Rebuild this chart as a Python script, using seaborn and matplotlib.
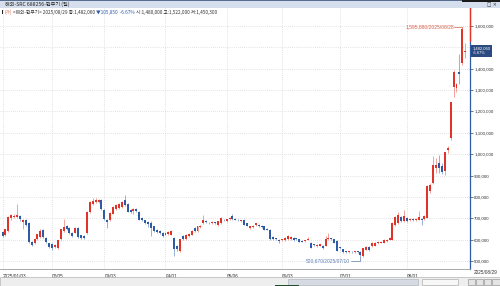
import numpy as np
import pandas as pd
import matplotlib
matplotlib.use("Agg")
import matplotlib.pyplot as plt
import matplotlib.transforms as mtransforms
from matplotlib.patches import Rectangle
from matplotlib.ticker import FuncFormatter
import seaborn as sns

# ---------------- data (prices in thousands of won-units) ----------------
open_k = [636, 621, 642, 700, 706, 708, 710, 682, 692, 680, 588, 585, 604, 612, 645, 610, 582,
          578, 566, 560, 603, 640, 662, 655, 633, 633, 655, 620, 618, 633, 730, 767, 777, 778, 785,
          740, 690, 690, 722, 745, 748, 755, 785, 769, 740, 736, 742, 730, 700, 690, 682, 677, 662,
          647, 640, 632, 624, 628, 624, 608, 570, 548, 616, 601, 616, 624, 655, 640, 660, 677, 688,
          680, 676, 680, 670, 677, 693, 688, 698, 710, 697, 692, 686, 693, 677, 654, 660, 670, 670,
          665, 662, 650, 647, 613, 604, 600, 597, 598, 603, 604, 608, 605, 601, 594, 592, 600, 585,
          578, 570, 572, 572, 572, 601, 605, 602, 593, 562, 555, 544, 541, 543, 541, 543, 543, 524,
          553, 566, 569, 572, 582, 586, 585, 592, 600, 600, 670, 678, 706, 686, 701, 690, 695, 692,
          694, 697, 697, 702, 826, 865, 935, 958, 945, 920, 1018, 1075, 1314, 1310, 1385, 1425, 1480]
high_k = [641, 652, 710, 722, 720, 767, 714, 698, 696, 684, 592, 607, 628, 648, 650, 613, 586,
          582, 578, 598, 652, 695, 668, 660, 636, 658, 658, 624, 622, 735, 780, 797, 795, 790, 790,
          745, 695, 728, 758, 765, 770, 781, 810, 772, 745, 748, 746, 733, 704, 694, 686, 685, 665,
          650, 643, 636, 636, 640, 644, 612, 575, 605, 620, 628, 632, 644, 658, 665, 668, 715, 692,
          684, 686, 684, 688, 704, 697, 698, 704, 718, 700, 695, 692, 696, 680, 665, 668, 680, 674,
          668, 664, 654, 650, 616, 608, 603, 604, 612, 620, 616, 612, 608, 604, 597, 599, 612, 588,
          580, 578, 581, 575, 615, 630, 610, 604, 596, 566, 558, 548, 547, 546, 546, 546, 548, 563,
          569, 570, 588, 587, 592, 594, 603, 603, 611, 684, 712, 730, 710, 737, 705, 700, 699, 700,
          732, 702, 715, 855, 865, 990, 982, 997, 960, 1012, 1040, 1243.2, 1393, 1335, 1467, 1595.88, 1522]
low_k = [614, 618, 636, 694, 700, 700, 688, 652, 664, 586, 568, 580, 600, 608, 608, 586, 562,
         550, 560, 556, 600, 636, 644, 628, 614, 630, 608, 602, 604, 628, 725, 760, 770, 772, 740,
         690, 655, 686, 718, 740, 742, 750, 758, 728, 725, 720, 730, 690, 686, 672, 660, 615, 636,
         632, 628, 614, 620, 622, 620, 524, 548, 540, 598, 598, 612, 620, 636, 636, 655, 672, 680,
         672, 672, 674, 666, 674, 686, 684, 694, 692, 690, 686, 682, 668, 662, 650, 656, 666, 660,
         654, 645, 644, 600, 598, 598, 582, 592, 595, 600, 600, 594, 598, 588, 588, 588, 596, 560,
         570, 566, 568, 557, 570, 598, 600, 582, 545, 556, 538, 538, 538, 537, 538, 537, 520.67, 521,
         550, 549, 566, 570, 579, 583, 582, 589, 597, 598, 665, 674, 682, 682, 682, 686, 688, 689,
         690, 670, 694, 700, 820, 860, 911, 911, 905, 903, 1005, 1065, 1267, 1290, 1330, 1415, 1450.3]
close_k = [618, 648, 706, 714, 712, 714, 695, 690, 670, 590, 575, 603, 625, 640, 612, 590, 566,
           562, 575, 596, 648, 660, 648, 633, 618, 655, 612, 606, 610, 730, 775, 782, 785, 785, 745,
           695, 682, 725, 755, 760, 765, 777, 762, 731, 730, 742, 735, 693, 690, 677, 672, 655, 640,
           636, 632, 618, 632, 634, 640, 555, 558, 601, 601, 624, 628, 640, 640, 662, 665, 693, 684,
           676, 682, 678, 685, 700, 690, 695, 700, 696, 694, 690, 690, 670, 665, 662, 666, 677, 662,
           657, 647, 647, 604, 601, 602, 594, 601, 608, 616, 613, 596, 602, 590, 591, 596, 602, 562,
           575, 575, 578, 560, 601, 606, 604, 585, 548, 560, 540, 542, 544, 540, 543, 541, 528, 560,
           566, 552, 585, 584, 589, 590, 600, 600, 608, 678, 706, 717, 686, 709, 686, 697, 692, 697,
           706, 694, 712, 850, 857, 950, 950, 935, 915, 1008, 1030, 1243.2, 1385, 1330, 1375, 1587.91, 1482.06]

holidays = ["2025-01-28", "2025-01-29", "2025-01-30", "2025-01-31", "2025-02-03", "2025-02-04",
            "2025-04-04", "2025-05-01", "2025-05-02", "2025-05-05", "2025-06-02"]
tick_dates = ["2025-01-03", "2025-02-05", "2025-03-03", "2025-04-01", "2025-05-06",
              "2025-06-03", "2025-07-01", "2025-08-01"]
tick_labels = ["2025/01/03", "02/05", "03/03", "04/01", "05/06", "06/03", "07/01", "08/01"]
last_label = "2025/08/29"
y_ticks = [500000, 600000, 700000, 800000, 900000, 1000000, 1100000, 1200000,
           1300000, 1400000, 1500000, 1600000]
hidden_tick = 1500000  # covered by the current-price box in the reference

title_text = "해외-SRC 688256-한무기 (일)"
info_a = "(가)"
info_b = "<해외-한무기> 2025/08/29 종:1,482,060 "
info_c = "▼105,850  -6.67%"
info_d = " 시:1,480,000 고:1,522,000 저:1,450,300"
max_label = "1,595,880/2025/08/28"
min_label = "520,670/2025/07/10"
box_label = "1,482,060\n-6.67%"

# ---------------- frame ----------------
all_days = pd.bdate_range("2025-01-03", "2025-08-29")
dates = [d for d in all_days if d.strftime("%Y-%m-%d") not in holidays]
df = pd.DataFrame({
    "date": dates,
    "open": np.array(open_k) * 1000,
    "high": np.array(high_k) * 1000,
    "low": np.array(low_k) * 1000,
    "close": np.array(close_k) * 1000,
})
df["pos"] = np.arange(len(df))
date_str = [d.strftime("%Y-%m-%d") for d in df["date"]]

sns.set_theme(style="white")
plt.rcParams["font.family"] = ["Liberation Sans", "Noto Sans CJK KR", "DejaVu Sans"]

RED = "#e0342b"
BLUE = "#2f5aa6"
RED_W = "#ef8a80"
BLUE_W = "#7f9bcc"

W, H = 500, 286
fig = plt.figure(figsize=(5, 2.86), dpi=100)
top_px, bot_px, right_px = 8, 269, 470
ax = fig.add_axes([0, 1 - bot_px / H, right_px / W, (bot_px - top_px) / H])
ax.set_facecolor("white")

up = df["close"] >= df["open"]
body_col = np.where(up, RED, BLUE)
wick_col = np.where(up, RED_W, BLUE_W)

ax.vlines(df["pos"], df["low"], df["high"], colors=wick_col, linewidth=0.55, zorder=2)
body_h = (df["close"] - df["open"]).abs().clip(lower=3500)
body_b = np.minimum(df["open"], df["close"])
ax.bar(df["pos"], body_h, bottom=body_b, width=0.68, color=body_col, linewidth=0, zorder=3)

ax.set_xlim(-0.87, len(df) + 0.64)
ax.set_ylim(462600, 1684000)

# grids
tick_pos = [date_str.index(d) for d in tick_dates]
for yv in y_ticks:
    ax.axhline(yv, color="#c9c9c9", lw=0.5, ls=(0, (1, 2)), zorder=0)
for xp in tick_pos:
    ax.axvline(xp, color="#c9c9c9", lw=0.5, ls=(0, (1, 2)), zorder=0)

# axes / ticks
ax.yaxis.tick_right()
ax.set_yticks(y_ticks)
ax.yaxis.set_major_formatter(FuncFormatter(lambda v, p: "" if abs(v - hidden_tick) < 1 else f"{v:,.0f}"))
ax.tick_params(axis="y", labelsize=3.2, length=2, width=0.5, pad=1, colors="#444444",
               labelcolor="#333333")
ax.set_xticks(tick_pos)
ax.set_xticklabels(tick_labels)
for lab in ax.get_xticklabels():
    lab.set_horizontalalignment("left")
ax.tick_params(axis="x", labelsize=3.4, length=3, width=0.5, pad=0.6, colors="#555555",
               labelcolor="#333333")
for s in ["left", "top"]:
    ax.spines[s].set_visible(False)
ax.spines["bottom"].set_color("#9a9a9a")
ax.spines["bottom"].set_linewidth(0.6)
ax.spines["right"].set_color(BLUE)
ax.spines["right"].set_linewidth(0.9)
trans_yd = mtransforms.blended_transform_factory(ax.transAxes, ax.transData)
ax.plot([1, 1], [1530000, 1684000], transform=trans_yd, color=RED, lw=0.9, clip_on=False, zorder=5)

# last date label at right
fig.text(474 / W, 1 - 272.5 / H, last_label, fontsize=3.4, color="#333333", va="center", ha="left")

# current price box
ax.text(1.006, df["close"].iloc[-1], box_label, transform=trans_yd, fontsize=3.0, color="white",
        ha="left", va="center", linespacing=1.15,
        bbox=dict(boxstyle="square,pad=0.4", facecolor="#2b4a80", edgecolor="none"), zorder=6)

# max annotation
imax = int(df["high"].idxmax())
hmax = df["high"].iloc[imax]
ax.text(imax - 2.75, hmax, max_label, fontsize=3.6, color="#d8614a", ha="right", va="center", zorder=6)
ax.plot([imax - 2.7, imax, imax], [hmax, hmax, hmax - 9000], color="#d8614a", lw=0.5, zorder=6)

# min annotation
imin = int(df["low"].idxmin())
lmin = df["low"].iloc[imin]
ax.text(imin - 3.5, 502000, min_label, fontsize=3.5, color="#5f7fb5", ha="right", va="center", zorder=6)
ax.plot([imin - 3.4, imin, imin], [502000, 502000, lmin], color="#5f7fb5", lw=0.5, zorder=6)

# ---------------- chrome: title bar, info line, scrollbar ----------------
fig.patches.append(Rectangle((0, 1 - top_px / H), 1, top_px / H, transform=fig.transFigure,
                             facecolor="#d4deec", edgecolor="none", zorder=0))
fig.patches.append(Rectangle((0, 1 - 1 / H), 1, 1 / H, transform=fig.transFigure,
                             facecolor="#5a6f90", edgecolor="none", zorder=1))
fig.patches.append(Rectangle((462 / W, 1 - 1.5 / H), 38 / W, 1.5 / H, transform=fig.transFigure,
                             facecolor="#1a1a1a", edgecolor="none", zorder=1))
fig.text(5 / W, 1 - 4.5 / H, title_text, fontsize=3.7, color="#222222", va="center", ha="left",
         family=["Noto Sans CJK KR", "DejaVu Sans"])
fig.text(487 / W, 1 - 4.5 / H, "□ ×", fontsize=3.3, color="#333333", va="center", ha="left",
         family=["DejaVu Sans"])

fig.patches.append(Rectangle((1.5 / W, 1 - 13.5 / H), 1.5 / W, 3.5 / H, transform=fig.transFigure,
                             facecolor="#222222", edgecolor="none", zorder=2))
ta = fig.text(4.5 / W, 1 - 12 / H, info_a, fontsize=3.4, color="#d8614a", va="center", ha="left",
              family=["Noto Sans CJK KR", "DejaVu Sans"])
tb = ax.annotate(info_b, xy=(1, 0), xycoords=ta, xytext=(1.0, 0), textcoords="offset points",
                 fontsize=3.4, color="#333333", va="bottom", ha="left",
                 family=["Noto Sans CJK KR", "DejaVu Sans"], annotation_clip=False)
tc = ax.annotate(info_c, xy=(1, 0), xycoords=tb, fontsize=3.4, color="#2f5aa6", va="bottom", ha="left",
                 family=["Noto Sans CJK KR", "DejaVu Sans"], annotation_clip=False)
td = ax.annotate(info_d, xy=(1, 0), xycoords=tc, fontsize=3.4, color="#333333", va="bottom", ha="left",
                 family=["Noto Sans CJK KR", "DejaVu Sans"], annotation_clip=False)

# bottom scrollbar row
fig.patches.append(Rectangle((0, 0), 1, 9 / H, transform=fig.transFigure,
                             facecolor="#eeeeee", edgecolor="#b5b5b5", linewidth=0.5, zorder=0))
fig.patches.append(Rectangle((288 / W, 1.5 / H), 130 / W, 6 / H, transform=fig.transFigure,
                             facecolor="#d6dae2", edgecolor="#a9aeb8", linewidth=0.4, zorder=1))
fig.patches.append(Rectangle((422 / W, 1.5 / H), 36 / W, 6 / H, transform=fig.transFigure,
                             facecolor="#f7f7f7", edgecolor="#a0a0a0", linewidth=0.4, zorder=1))
for bx in [468, 476, 484]:
    fig.patches.append(Rectangle((bx / W, 1.5 / H), 6.5 / W, 6 / H, transform=fig.transFigure,
                                 facecolor="#e4e4e4", edgecolor="#888888", linewidth=0.4, zorder=1))
fig.patches.append(Rectangle((491.5 / W, 1.5 / H), 8 / W, 6 / H, transform=fig.transFigure,
                             facecolor="#e4e4e4", edgecolor="#888888", linewidth=0.4, zorder=1))
fig.patches.append(Rectangle((275 / W, 0), 24 / W, 1.5 / H, transform=fig.transFigure,
                             facecolor="#1f4d2a", edgecolor="none", zorder=2))

fig.savefig("out.png", dpi=100)
